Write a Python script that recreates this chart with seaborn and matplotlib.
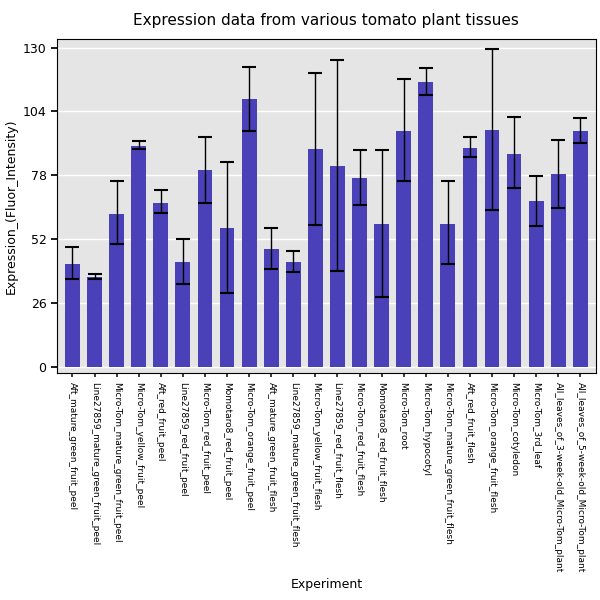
import numpy as np
import pandas as pd
import seaborn as sns
import matplotlib.pyplot as plt

# Данные
experiments = [
    "Aft_mature_green_fruit_peel", "Line27859_mature_green_fruit_peel",
    "Micro-Tom_mature_green_fruit_peel", "Micro-Tom_yellow_fruit_peel",
    "Aft_red_fruit_peel", "Line27859_red_fruit_peel", "Micro-Tom_red_fruit_peel",
    "Momotaro8_red_fruit_peel", "Micro-Tom_orange_fruit_peel",
    "Aft_mature_green_fruit_flesh", "Line27859_mature_green_fruit_flesh",
    "Micro-Tom_yellow_fruit_flesh", "Line27859_red_fruit_flesh",
    "Micro-Tom_red_fruit_flesh", "Momotaro8_red_fruit_flesh", "Micro-Tom_root",
    "Micro-Tom_hypocotyl", "Micro-Tom_mature_green_fruit_flesh",
    "Aft_red_fruit_flesh", "Micro-Tom_orange_fruit_flesh", "Micro-Tom_cotyledon",
    "Micro-Tom_3rd_leaf", "All_leaves_of_3-week-old_Micro-Tom_plant",
    "All_leaves_of_5-week-old_Micro-Tom_plant",
]
expression = [41.8, 36.6, 62.2, 89.8, 66.6, 42.7, 80.0, 56.5, 108.9, 47.9, 42.7, 88.6,
              81.7, 76.8, 58.1, 95.9, 116.2, 58.1, 89.0, 96.3, 86.9, 67.4, 78.4, 95.9]
err_high = [48.8, 37.8, 75.6, 91.8, 71.9, 52.0, 93.8, 83.3, 122.3, 56.5, 47.1, 119.8,
            125.1, 88.2, 88.2, 117.4, 121.5, 75.6, 93.8, 129.6, 101.6, 77.6, 92.6, 101.2]
err_low = [35.8, 35.8, 50.0, 88.6, 62.6, 33.7, 66.6, 30.0, 95.9, 39.8, 38.6, 57.7,
           39.0, 65.8, 28.4, 75.6, 110.9, 41.8, 85.3, 63.8, 72.7, 57.3, 64.6, 91.0]
yticks = [0, 26, 52, 78, 104, 130]

df = pd.DataFrame({"Experiment": experiments, "Expression": expression})

sns.set_theme(style="darkgrid", rc={"axes.facecolor": "#e5e5e5"})
plt.rcParams['font.family'] = ['DejaVu Sans']

fig = plt.figure(figsize=(6, 6), dpi=100)
ax = fig.add_axes([0.095, 0.378, 0.898, 0.557])
sns.barplot(data=df, x="Experiment", y="Expression", color="#4a41b8",
            saturation=1, width=0.67, errorbar=None, linewidth=0, ax=ax)

x = np.arange(len(experiments))
y = np.array(expression)
yerr = [y - np.array(err_low), np.array(err_high) - y]
ax.errorbar(x, y, yerr=yerr, fmt="none", ecolor="black", elinewidth=1,
            capsize=5, capthick=1.5)

ax.set_ylim(-2.5, 133.5)
ax.set_xlim(-0.7, len(experiments) - 0.3)
ax.set_yticks(yticks)
ax.tick_params(axis="y", labelsize=9, left=True, length=4, color="black", labelcolor="black")
ax.tick_params(axis="x", labelsize=6.5, labelrotation=-90, bottom=True, length=3,
               labelcolor="black")
ax.grid(axis="x", visible=False)
ax.grid(axis="y", color="white", linewidth=1)
for s in ax.spines.values():
    s.set_visible(True)
    s.set_color("black")
    s.set_linewidth(0.8)

ax.set_xlabel("Experiment", fontsize=9, color="black")
ax.set_ylabel("Expression_(Fluor_Intensity)", fontsize=9, color="black")
ax.set_title("Expression data from various tomato plant tissues", fontsize=11, pad=10,
             color="black")

plt.savefig("out.png", dpi=100)
